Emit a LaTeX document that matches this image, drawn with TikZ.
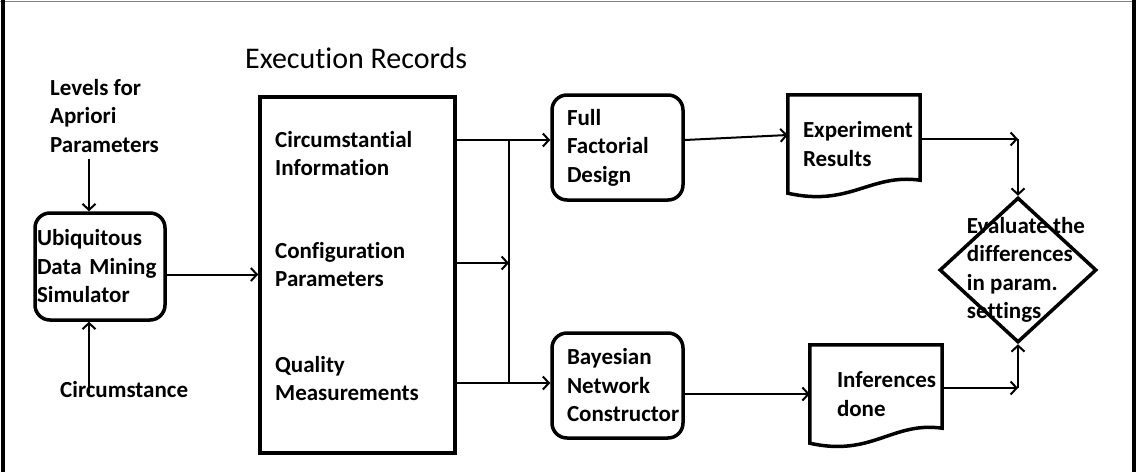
\documentclass[tikz,border=0pt]{standalone}
\usepackage{fontspec}
\setmainfont{Carlito}[Ligatures={NoCommon}]
\usetikzlibrary{positioning,shapes.geometric,arrows.meta}

\begin{document}
\begin{tikzpicture}[
        x=1pt, y=-1pt, % pixel-like units, y grows downwards
        every node/.style={inner sep=0pt, align=left, font=\fontsize{23}{28.5}\selectfont\bfseries},
        procbox/.style={draw, line width=3.5pt, rounded corners=15pt, minimum width=131pt, minimum height=105pt, text width=#1},
        docnode/.style={minimum width=132pt, minimum height=98pt, text width=#1},
        docline/.style={draw, line width=3.5pt, line join=miter},
        link/.style={line width=2pt, -{Straight Barb[length=6pt, width=13pt, line width=2pt]}}
    ]
    \useasboundingbox (0,0) rectangle (1144,472);

    % Frame
    \draw[line width=1pt, gray] (0,1) -- (1136,1);
    \draw[line width=4pt] (3,0) -- (3,472);
    \draw[line width=4pt] (1134,0) -- (1134,472);

    % Nodes
    \node[font=\fontsize{30}{36}\selectfont, anchor=base west] (title) at (245,68) {Execution Records};
    \node[anchor=north west] (lvl) at (50,79) {Levels for\\ Apriori\\ Parameters};
    \node[anchor=base west] (circum) at (60,397) {Circumstance};

    \node[procbox=126pt, minimum width=130pt, minimum height=107pt] (sim) at (100,266.5) {Ubiquitous\\ Data Mining\\ Simulator};

    \node[draw, line width=3.5pt, minimum width=195pt, minimum height=356pt] (recs) at (357.5,275) {};
    \node[anchor=north west] (circ) at (275,131) {Circumstantial\\ Information};
    \node[anchor=north west] (conf) at (275,242) {Configuration\\ Parameters};
    \node[anchor=north west] (qual) at (275,356) {Quality\\ Measurements};

    \node[procbox=101pt] (ffd) at (617.5,147.5) {Full\\ Factorial\\ Design};
    \node[procbox=101pt] (bnc) at (617.5,385.5) {Bayesian\\ Network\\ Constructor};

    \node[docnode=102pt] (exp) at (854,144) {Experiment\\ Results};
    \node[docnode=78pt] (inf) at (876,394) {Inferences\\ done};

    \node[diamond, draw, line width=3.5pt, minimum width=157pt, minimum height=145pt,
          label={[xshift=8pt]center:Evaluate the\\ differences\\ in param.\\ settings}] (eval) at (1018,270) {};

    % Document outlines
    \draw[docline] (exp.north west) -- (exp.north east) -- ([yshift=13pt]exp.south east)
        .. controls ([xshift=-50pt, yshift=20pt]exp.south east) and ([xshift=62pt, yshift=-14pt]exp.south west) .. (exp.south west) -- cycle;
    \draw[docline] (inf.north west) -- (inf.north east) -- ([yshift=15pt]inf.south east)
        .. controls ([xshift=-50pt, yshift=22pt]inf.south east) and ([xshift=62pt, yshift=-14pt]inf.south west) .. (inf.south west) -- cycle;

    % Junctions
    \coordinate (jtop) at (509,140);
    \coordinate (jmid) at (509,263);
    \coordinate (jbot) at (509,383);
    \coordinate (etop) at (1018,139);
    \coordinate (ebot) at (1018,388);

    % Edges
    \draw[link, shorten <=6pt] ([xshift=-11pt]sim.north |- lvl.south) -- ([xshift=-11pt]sim.north);
    \draw[link, shorten <=-12pt] ([xshift=-11pt]sim.south |- circum.north) -- ([xshift=-11pt]sim.south);
    \draw[link] ([yshift=-8pt]sim.east) -- ([yshift=-8pt]sim.east -| recs.west);

    \draw[link] (recs.east |- jtop) -- (jtop -| ffd.west);
    \draw[link] (recs.east |- jmid) -- (jmid);
    \draw[link] (recs.east |- jbot) -- (jbot -| bnc.west);
    \draw[line width=2pt] (jtop) -- (jbot);

    \draw[link] ([yshift=7.5pt]ffd.east) -- ([yshift=9pt]exp.west);
    \draw[link] (bnc.east |- inf.west) -- (inf.west);

    \draw[link] (exp.east |- etop) -- (etop);
    \draw[link] (etop) -- (eval.north);
    \draw[link] (inf.east |- ebot) -- (ebot);
    \draw[link] (ebot) -- (eval.south);

\end{tikzpicture}
\end{document}
